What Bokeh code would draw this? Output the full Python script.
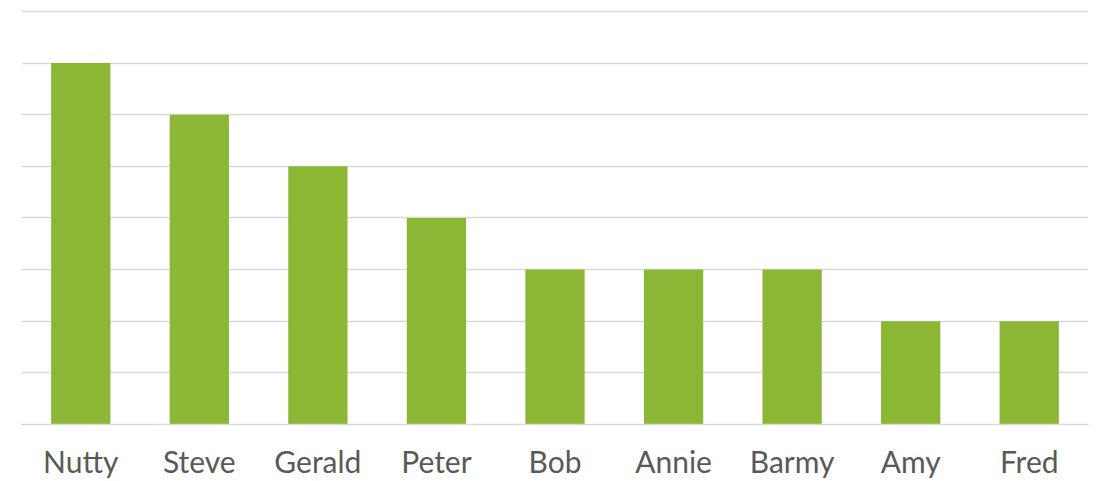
from bokeh.plotting import figure
from bokeh.models import FixedTicker, Range1d
from bokeh.embed import file_html
from bokeh.resources import INLINE

names = ["Nutty", "Steve", "Gerald", "Peter", "Bob", "Annie", "Barmy", "Amy", "Fred"]
counts = [7, 6, 5, 4, 3, 3, 3, 2, 2]
grid_ticks = [0, 1, 2, 3, 4, 5, 6, 7, 8]

W, H = 1094, 481
p = figure(x_range=names, width=W, height=H, output_backend="svg",
           toolbar_location=None, min_border_left=21, min_border_right=W - 1088,
           min_border_top=8, min_border_bottom=H - 425)
p.y_range = Range1d(0, 8.058)
p.vbar(x=names, top=counts, width=0.5, color="#8BB735", line_color=None)

p.outline_line_color = None
p.background_fill_color = "white"
p.border_fill_color = "white"
p.yaxis.visible = False
p.ygrid.ticker = FixedTicker(ticks=grid_ticks)
p.ygrid.grid_line_color = "#d9d9d9"
p.ygrid.grid_line_width = 1.5
p.xgrid.grid_line_color = None
p.x_range.range_padding = 0
p.xaxis.axis_line_color = "#d9d9d9"
p.xaxis.axis_line_width = 1.5
p.xaxis.major_tick_line_color = None
p.xaxis.minor_tick_line_color = None
p.xaxis.major_label_text_font = "Lato"
p.xaxis.major_label_text_font_size = "30px"
p.xaxis.major_label_text_color = "#595959"
p.xaxis.major_label_standoff = 12

open("out.html", "w").write(file_html(p, INLINE))
